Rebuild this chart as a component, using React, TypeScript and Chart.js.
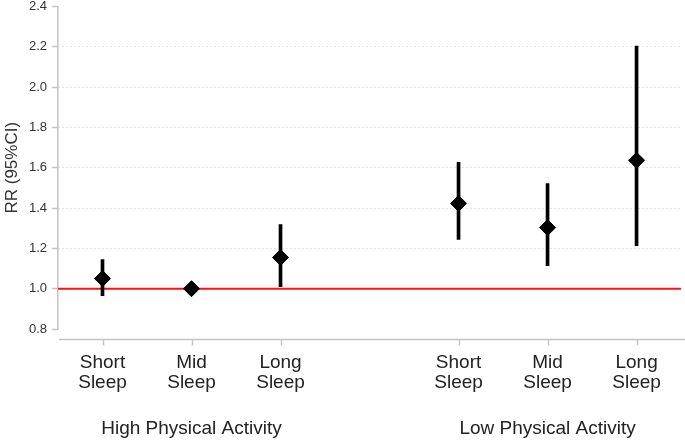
import React, { useEffect, useRef } from "react";
import { Chart, registerables } from "chart.js";

Chart.register(...registerables);

const sleepLabels: string[][] = [
  ["Short", "Sleep"],
  ["Mid", "Sleep"],
  ["Long", "Sleep"],
  ["Short", "Sleep"],
  ["Mid", "Sleep"],
  ["Long", "Sleep"],
];
const positions = [0, 1, 2, 4, 5, 6];
const rr = [1.05, 1.0, 1.155, 1.423, 1.303, 1.637];
const lower = [0.965, 1.0, 1.01, 1.244, 1.114, 1.214];
const upper = [1.144, 1.0, 1.318, 1.627, 1.522, 2.204];
const groupLabels = ["High Physical Activity", "Low Physical Activity"];
const groupCenters = [1, 5];
const yMin = 0.8;
const yMax = 2.4;
const yStep = 0.2;
const refValue = 1.0;
const yTitle = "RR (95%CI)";

const FONT = "'Liberation Sans', Arial, sans-serif";

const axisPlugin = {
  id: "customXAxis",
  afterDraw(chart: any) {
    const { ctx, chartArea } = chart;
    const xs = chart.scales.x;
    const y0 = Math.round(chartArea.bottom) + 10.5;
    ctx.save();
    ctx.strokeStyle = "#c4c4c4";
    ctx.lineWidth = 1.5;
    ctx.beginPath();
    ctx.moveTo(chartArea.left + 1, y0);
    ctx.lineTo(chart.width, y0);
    ctx.stroke();
    positions.forEach((p) => {
      const x = Math.round(xs.getPixelForValue(p)) + 0.5;
      ctx.beginPath();
      ctx.moveTo(x, y0);
      ctx.lineTo(x, y0 + 6);
      ctx.stroke();
    });
    ctx.fillStyle = "#222";
    ctx.font = `19px ${FONT}`;
    ctx.textAlign = "center";
    ctx.textBaseline = "middle";
    groupLabels.forEach((g, i) => {
      ctx.fillText(g, xs.getPixelForValue(groupCenters[i]), 429);
    });
    ctx.restore();
  },
};

export default function App() {
  const ref = useRef<HTMLCanvasElement | null>(null);
  useEffect(() => {
    document.body.style.margin = "0";
    const canvas = ref.current!;
    const chart = new Chart(canvas, {
      type: "scatter",
      data: {
        datasets: [
          {
            type: "line",
            data: [
              { x: -0.5, y: refValue },
              { x: 6.5, y: refValue },
            ],
            borderColor: "#ff1010",
            borderWidth: 2,
            pointRadius: 0,
            order: 3,
          } as any,
          {
            type: "bar",
            data: positions.map((p, i) => ({ x: p, y: [lower[i], upper[i]] })),
            backgroundColor: "#000",
            borderWidth: 0,
            barThickness: 3,
            order: 2,
          } as any,
          {
            type: "scatter",
            data: positions.map((p, i) => ({ x: p, y: rr[i] })),
            pointStyle: "rectRot",
            pointRadius: 8,
            backgroundColor: "#000",
            borderColor: "#000",
            borderWidth: 1,
            order: 1,
          } as any,
        ],
      },
      options: {
        animation: false,
        responsive: false,
        layout: { autoPadding: false, padding: { top: 6.5, right: 2, bottom: 0, left: 0 } },
        plugins: {
          legend: { display: false },
          tooltip: { enabled: false },
        },
        scales: {
          x: {
            type: "linear",
            min: -0.5,
            max: 6.5,
            offset: false,
            grid: { display: false, drawTicks: false },
            border: { display: false },
            afterBuildTicks: (scale: any) => {
              scale.ticks = positions.map((v) => ({ value: v }));
            },
            afterFit: (scale: any) => {
              scale.height = 113;
            },
            ticks: {
              autoSkip: false,
              maxRotation: 0,
              padding: 24,
              color: "#222",
              font: { family: FONT, size: 19, lineHeight: 1.05 },
              callback: (value: any) => {
                const i = positions.indexOf(Number(value));
                return i >= 0 ? sleepLabels[i] : "";
              },
            },
          },
          y: {
            type: "linear",
            min: yMin,
            max: yMax,
            beginAtZero: false,
            afterFit: (scale: any) => {
              scale.width = 58;
            },
            border: { display: true, color: "#c4c4c4", width: 1.5, dash: [1, 3] },
            grid: {
              drawOnChartArea: true,
              drawTicks: true,
              tickLength: 6,
              tickColor: "#c4c4c4",
              tickWidth: 1.5,
              tickBorderDash: [],
              lineWidth: 1,
              color: (ctx: any) => {
                const v = ctx.tick ? ctx.tick.value : null;
                if (v == null) return "rgba(0,0,0,0)";
                if (Math.abs(v - yMin) < 1e-6 || Math.abs(v - yMax) < 1e-6 || Math.abs(v - refValue) < 1e-6)
                  return "rgba(0,0,0,0)";
                return "#c8c8c8";
              },
            },
            ticks: {
              stepSize: yStep,
              padding: 5,
              color: "#333",
              font: { family: FONT, size: 13, lineHeight: 0.1 },
              callback: (value: any) => Number(value).toFixed(1),
            },
            title: {
              display: true,
              text: yTitle,
              color: "#333",
              font: { family: FONT, size: 17 },
              padding: { top: 2, bottom: 0 },
            },
          },
        },
      },
      plugins: [axisPlugin],
    });
    return () => chart.destroy();
  }, []);
  return (
    <div style={{ width: 685, height: 442 }}>
      <canvas ref={ref} width={685} height={442} style={{ display: "block" }} />
    </div>
  );
}
